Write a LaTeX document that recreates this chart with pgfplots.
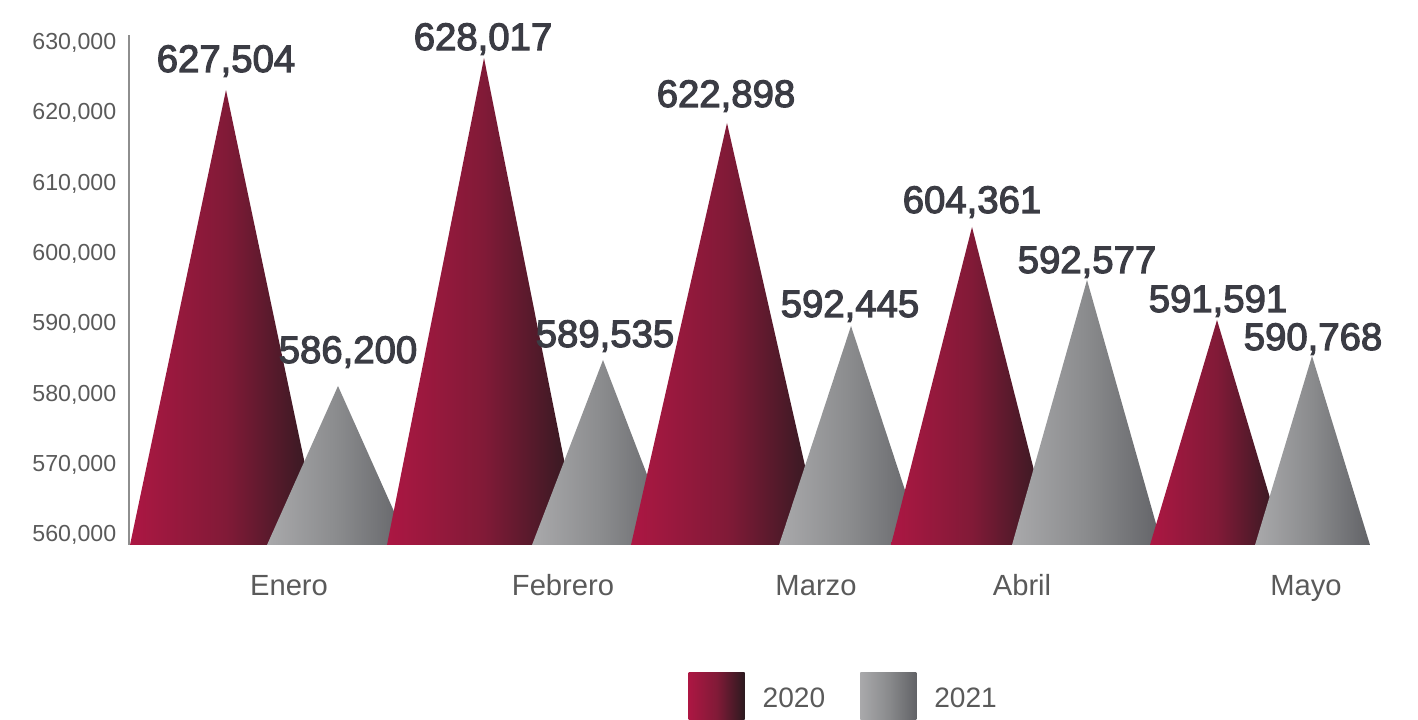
\documentclass[border=0pt]{standalone}
\usepackage{pgfplots}
\usepackage{pgfplotstable}
\pgfplotsset{compat=1.18}
\usepackage{fontspec}
\setmainfont{Liberation Sans}
\newfontfamily\valfont{Liberation Sans}[FakeBold=3]
\definecolor{rL}{HTML}{AC1743}
\definecolor{rM}{HTML}{811A37}
\definecolor{rR}{HTML}{2B1A1F}
\definecolor{gL}{HTML}{A9A9AB}
\definecolor{gM}{HTML}{8A8B8D}
\definecolor{gR}{HTML}{626367}
\definecolor{valc}{HTML}{3B3C44}
\definecolor{tickc}{HTML}{5A5A5A}
\definecolor{axc}{HTML}{8E8E8E}

\pgfplotstableread{
x y label
226 625862 627,504
348 584467 586,200
483 628991 628,017
605 586743 589,535
726 620883 622,898
850 591011 592,445
972 605805 604,361
1087 597270 592,577
1218 591722 591,591
1313 586316 590,768
}\labels

\tikzset{red shade/.style={left color=rL, right color=rR, middle color=rM},
         gray shade/.style={left color=gL, right color=gR, middle color=gM}}

\begin{document}
\begin{tikzpicture}
\path[use as bounding box] (0,0) rectangle (14.18cm,7.2cm);
\begin{axis}[
 at={(1.29cm,1.75cm)}, anchor=south west,
 scale only axis, width=12.41cm, height=5.10cm,
 xmin=129, xmax=1370, ymin=558577.5, ymax=631125,
 axis y line*=left, axis x line*=bottom,
 x axis line style={draw=none},
 y axis line style={draw=axc, line width=0.45pt},
 major tick length=0pt,
 ytick={560000,570000,...,630000},
 scaled y ticks=false,
 yticklabel style={/pgf/number format/fixed, /pgf/number format/1000 sep={,}, /pgf/number format/assume math mode=true, font=\fontsize{6.6}{7}\selectfont, color=tickc, anchor=east, inner sep=0pt, xshift=-0.12cm},
 xtick={289,563,816,1022,1306},
 xticklabels={Enero,Febrero,Marzo,Abril,Mayo},
 xticklabel style={font=\fontsize{8.3}{9}\selectfont, color=tickc, anchor=base, inner sep=0pt, yshift=-0.51cm},
 clip=false,
 legend columns=2,
 legend style={at={(axis description cs:0.451,-0.304)}, anchor=west, draw=none, fill=none, inner sep=0pt, outer sep=0pt, font=\fontsize{8}{9}\selectfont, text=tickc, /tikz/every odd column/.append style={column sep=0.18cm}, /tikz/every even column/.append style={column sep=0.35cm}, nodes={inner sep=0pt}},
]
% Enero
\addplot[draw=none, mark=none, red shade, forget plot] coordinates {(130,558577.5) (226,623301) (322,558577.5)} -- cycle;
\addplot[draw=none, mark=none, gray shade, forget plot] coordinates {(267,558577.5) (338,581195) (409,558577.5)} -- cycle;
% Febrero
\addplot[draw=none, mark=none, red shade, forget plot] coordinates {(387,558577.5) (484,627853) (581,558577.5)} -- cycle;
\addplot[draw=none, mark=none, gray shade, forget plot] coordinates {(532,558577.5) (603,584894) (674,558577.5)} -- cycle;
% Marzo
\addplot[draw=none, mark=none, red shade, forget plot] coordinates {(631,558577.5) (727,618607) (823,558577.5)} -- cycle;
\addplot[draw=none, mark=none, gray shade, forget plot] coordinates {(779,558577.5) (851,589730) (923,558577.5)} -- cycle;
% Abril
\addplot[draw=none, mark=none, red shade, forget plot] coordinates {(891,558577.5) (972,603813) (1053,558577.5)} -- cycle;
\addplot[draw=none, mark=none, gray shade, forget plot] coordinates {(1012,558577.5) (1087,596274) (1162,558577.5)} -- cycle;
% Mayo
\addplot[draw=none, mark=none, red shade, forget plot] coordinates {(1150,558577.5) (1217,590584) (1284,558577.5)} -- cycle;
\addplot[draw=none, mark=none, gray shade, forget plot] coordinates {(1255,558577.5) (1312,585463) (1370,558577.5)} -- cycle;
% value labels
\addplot[draw=none, mark=none, nodes near coords, point meta=explicit symbolic,
  every node near coord/.append style={anchor=base, inner sep=0pt, font=\valfont\fontsize{10.9}{12}\selectfont, text=valc}, forget plot]
  table[x=x, y=y, meta=label] {\labels};
% legend
\addlegendimage{legend image code/.code={\path[draw=none, red shade] (0cm,-0.28cm) rectangle (0.56cm,0.28cm);}}
\addlegendentry{2020}
\addlegendimage{legend image code/.code={\path[draw=none, gray shade] (0cm,-0.28cm) rectangle (0.56cm,0.28cm);}}
\addlegendentry{2021}
\end{axis}
\end{tikzpicture}
\end{document}
